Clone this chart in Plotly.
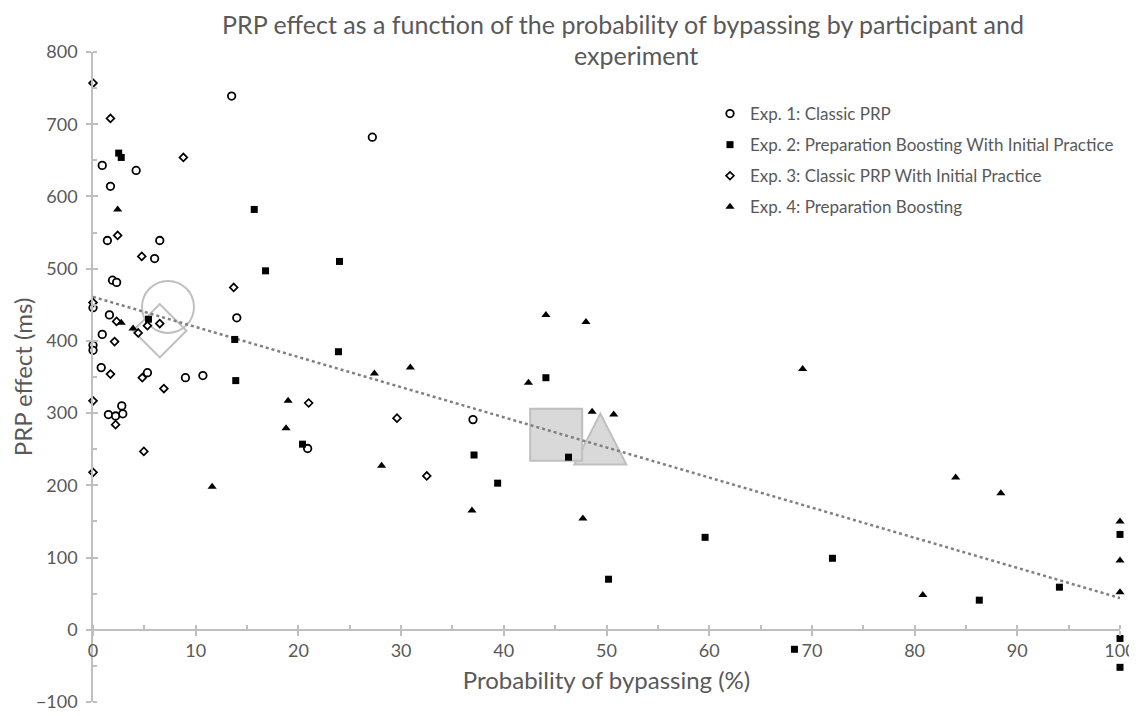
import plotly.graph_objects as go

# ---------------- data ----------------
exp1_x = [13.5, 0.9, 4.2, 1.7, 1.4, 6.5, 6.0, 1.9, 2.3, 1.6, 14.0, 0.0, 0.9, 0.0, 0.0,
          0.8, 5.3, 9.0, 10.7, 2.8, 1.5, 2.2, 2.9, 20.9, 27.2, 37.0]
exp1_y = [739, 643, 636, 614, 539, 539, 514, 484, 481, 436, 432, 446, 409, 394, 387,
          363, 356, 349, 352, 310, 298, 296, 299, 251, 682, 291]

exp2_x = [2.5, 2.75, 15.7, 16.8, 24.0, 5.4, 13.8, 23.9, 13.9, 44.1, 20.4, 37.1, 46.3,
          39.4, 59.6, 50.2, 72.0, 86.3, 94.1, 100, 68.3, 100, 100]
exp2_y = [660, 654, 582, 497, 510, 430, 402, 385, 345, 349, 257, 242, 239,
          203, 128, 70, 99, 41, 59, 132, -27, -12, -52]

exp3_x = [0.0, 1.7, 8.8, 2.4, 4.75, 13.7, 0.0, 2.3, 5.3, 6.5, 4.4, 2.1, 1.7, 4.8,
          6.9, 0.0, 2.2, 4.95, 0.0, 21.0, 29.6, 32.5]
exp3_y = [757, 708, 654, 546, 517, 474, 453, 427, 421, 424, 411, 399, 354, 349,
          334, 317, 284, 247, 218, 314, 293, 213]

exp4_x = [2.4, 2.75, 3.9, 11.6, 19.0, 18.8, 27.4, 30.9, 28.1, 44.1, 48.0, 42.4, 48.6,
          50.7, 36.9, 47.7, 69.1, 84.0, 88.4, 100, 100, 80.8, 100]
exp4_y = [582, 425, 417, 198, 317, 279, 355, 363, 227, 436, 426, 342, 302,
          298, 165, 154, 361, 211, 189, 150, 96, 48, 52]

# experiment means (large grey markers): Exp1, Exp2, Exp3, Exp4
mean_x = [7.3, 45.1, 6.5, 49.4]
mean_y = [447, 270, 414, 264]

# linear trend line (at its two ends)
trend_x = [0, 100]
trend_y = [461, 44]

series_names = ["Exp. 1: Classic PRP",
                "Exp. 2: Preparation Boosting With Initial Practice",
                "Exp. 3: Classic PRP With Initial Practice",
                "Exp. 4: Preparation Boosting"]

title_line1 = "PRP effect as a function of the probability of bypassing by participant and"
title_line2 = "experiment"

x_ticks = [0, 10, 20, 30, 40, 50, 60, 70, 80, 90, 100]
y_ticks = [-100, 0, 100, 200, 300, 400, 500, 600, 700, 800]

# ---------------- styling ----------------
FONT = "Lato"
TXT = "#595959"
AX = "#bfbfbf"
MEANLINE = "#bfbfbf"
MEANFILL = "#d9d9d9"

fig = go.Figure()

# means: circle (Exp1), diamond (Exp3), square (Exp2)
fig.add_trace(go.Scatter(x=[mean_x[0]], y=[mean_y[0]], mode="markers", showlegend=False,
                         hoverinfo="skip", cliponaxis=False,
                         marker=dict(symbol="circle", size=52, color="rgba(0,0,0,0)",
                                     line=dict(color=MEANLINE, width=2))))
fig.add_trace(go.Scatter(x=[mean_x[2]], y=[mean_y[2]], mode="markers", showlegend=False,
                         hoverinfo="skip", cliponaxis=False,
                         marker=dict(symbol="diamond", size=41, color="rgba(0,0,0,0)",
                                     line=dict(color=MEANLINE, width=2))))
fig.add_trace(go.Scatter(x=[mean_x[1]], y=[mean_y[1]], mode="markers", showlegend=False,
                         hoverinfo="skip", cliponaxis=False,
                         marker=dict(symbol="square", size=52, color=MEANFILL,
                                     line=dict(color=MEANLINE, width=2))))
# triangle mean (Exp4) as a pixel-sized shape anchored at the data point
fig.add_shape(type="path", xref="x", yref="y", xsizemode="pixel", ysizemode="pixel",
              xanchor=mean_x[3], yanchor=mean_y[3],
              path="M -26,-25.5 L 26,-25.5 L 0,25.5 Z",
              fillcolor=MEANFILL, line=dict(color=MEANLINE, width=2), layer="below")

# trend line
fig.add_trace(go.Scatter(x=trend_x, y=trend_y, mode="lines", showlegend=False,
                         hoverinfo="skip",
                         line=dict(color="#808080", width=2.5, dash="dot")))

# participant points
specs = [
    (exp1_x, exp1_y, dict(symbol="circle", size=7.5, color="white",
                          line=dict(color="black", width=1.8))),
    (exp2_x, exp2_y, dict(symbol="square", size=7, color="black",
                          line=dict(color="black", width=0))),
    (exp3_x, exp3_y, dict(symbol="diamond", size=6, color="white",
                          line=dict(color="black", width=1.7))),
    (exp4_x, exp4_y, dict(symbol="triangle-up", size=8, color="black",
                          line=dict(color="black", width=0))),
]
for i, (xs, ys, mk) in enumerate(specs):
    fig.add_trace(go.Scatter(x=xs, y=ys, mode="markers", name=series_names[i],
                             legendgroup=f"g{i}", cliponaxis=False, marker=mk))

# empty trace to realize overlay axes (inner half of the crossing ticks)
fig.add_trace(go.Scatter(x=[], y=[], xaxis="x2", yaxis="y2", showlegend=False,
                         hoverinfo="skip"))

x_pos = (0 - y_ticks[0]) / (y_ticks[-1] - y_ticks[0])

fig.add_annotation(text=title_line2, xref="paper", yref="paper",
                   x=(628 - 85) / 1027, y=1 + (44 - 47) / 650,
                   xanchor="center", yanchor="middle", showarrow=False,
                   font=dict(family=FONT, size=25, color=TXT))

fig.update_layout(
    width=1137, height=716,
    margin=dict(l=85, r=25, t=44, b=22, autoexpand=False),
    paper_bgcolor="white", plot_bgcolor="white",
    font=dict(family=FONT, color=TXT),
    title=dict(text=title_line1,
               x=615 / 1137, xanchor="center", xref="container",
               y=1 - 17 / 716, yanchor="middle", yref="container",
               font=dict(family=FONT, size=25, color=TXT)),
    xaxis=dict(range=[x_ticks[0], x_ticks[-1]], tickvals=x_ticks, anchor="free", position=x_pos,
               showline=True, linecolor=AX, linewidth=1.5, showgrid=False, zeroline=False,
               ticks="outside", ticklen=5, tickwidth=1.5, tickcolor=AX,
               minor=dict(dtick=5, ticks="inside", ticklen=4, tickwidth=1.5, tickcolor=AX,
                          showgrid=False),
               tickfont=dict(family=FONT, size=18, color=TXT),
               title=dict(text="Probability of bypassing (%)", standoff=11,
                          font=dict(family=FONT, size=24, color=TXT))),
    xaxis2=dict(range=[x_ticks[0], x_ticks[-1]], tickvals=x_ticks, overlaying="x", anchor="free",
                position=x_pos, showline=False, showgrid=False, zeroline=False,
                ticks="inside", ticklen=5, tickwidth=1.5, tickcolor=AX, showticklabels=False),
    yaxis=dict(range=[y_ticks[0], y_ticks[-1]], tickvals=y_ticks,
               showline=True, linecolor=AX, linewidth=1.5, showgrid=False, zeroline=False,
               ticks="outside", ticklen=5, tickwidth=1.5, tickcolor=AX,
               ticklabelstandoff=5,
               minor=dict(dtick=50, ticks="inside", ticklen=4, tickwidth=1.5, tickcolor=AX,
                          showgrid=False),
               tickfont=dict(family=FONT, size=18, color=TXT),
               title=dict(text="PRP effect (ms)", standoff=12,
                          font=dict(family=FONT, size=24, color=TXT))),
    yaxis2=dict(range=[y_ticks[0], y_ticks[-1]], tickvals=y_ticks, overlaying="y", side="left",
                anchor="x", showline=False, showgrid=False, zeroline=False,
                ticks="inside", ticklen=5, tickwidth=1.5, tickcolor=AX, showticklabels=False),
    legend=dict(x=(702 - 85) / 1027, y=1 - (88 - 44) / 650, xanchor="left", yanchor="top",
                traceorder="grouped", tracegroupgap=6,
                bgcolor="rgba(0,0,0,0)",
                font=dict(family=FONT, size=17, color=TXT)),
    showlegend=True,
)

fig.write_html("out.html")
